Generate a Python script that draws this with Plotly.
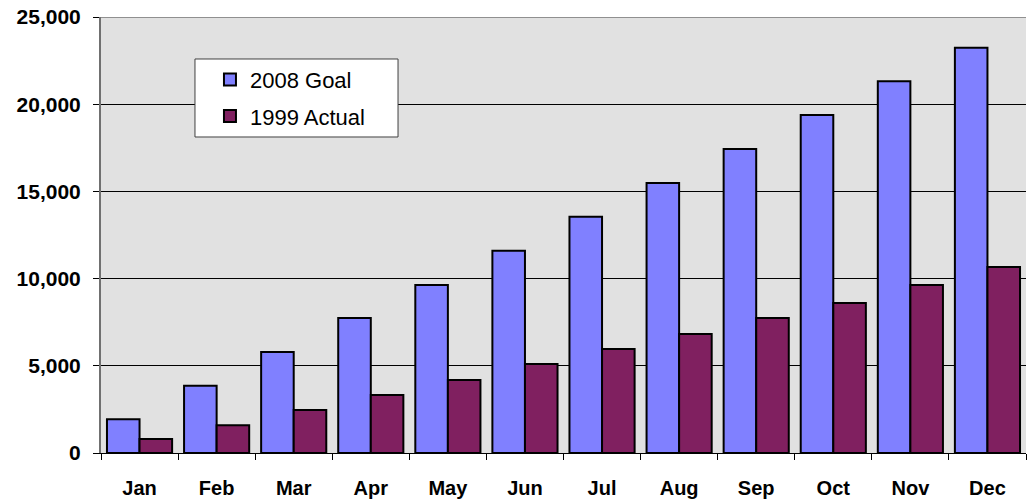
import plotly.graph_objects as go

months = ["Jan", "Feb", "Mar", "Apr", "May", "Jun", "Jul", "Aug", "Sep", "Oct", "Nov", "Dec"]
goal_2008 = [1930, 3860, 5790, 7740, 9640, 11590, 13540, 15480, 17430, 19380, 21320, 23240]
actual_1999 = [800, 1590, 2470, 3330, 4190, 5100, 5960, 6820, 7740, 8600, 9630, 10670]
y_ticks = [0, 5000, 10000, 15000, 20000, 25000]

fig = go.Figure()
fig.add_trace(go.Bar(x=months, y=goal_2008, name="2008 Goal", legendgroup="g",
                     marker=dict(color="#8080FF", line=dict(color="black", width=2))))
fig.add_trace(go.Bar(x=months, y=actual_1999, name="1999 Actual", legendgroup="a",
                     marker=dict(color="#802060", line=dict(color="black", width=2))))

fig.update_layout(
    width=1029, height=502,
    margin=dict(l=101, r=3, t=17, b=49),
    paper_bgcolor="white", plot_bgcolor="#E1E1E1",
    barmode="group", bargap=0.155, bargroupgap=0,
    font=dict(family="Liberation Sans, Arial", size=18, color="black"),
    showlegend=True,
    legend=dict(x=0.1178, y=0.9045, xanchor="left", yanchor="top",
                bgcolor="rgba(0,0,0,0)", borderwidth=0,
                font=dict(size=22), itemwidth=30, tracegroupgap=5,
                traceorder="grouped"),
    xaxis=dict(showline=True, linecolor="black", linewidth=1, automargin=False,
               ticks="outside", tickson="boundaries", ticklen=6, tickcolor="black",
               tickfont=dict(size=20, family="Liberation Sans, Arial"),
               showgrid=False, ticklabelstandoff=17),
    yaxis=dict(range=[0, 25000], tickvals=y_ticks, tickformat=",", automargin=False,
               showgrid=True, gridcolor="black", gridwidth=1,
               showline=True, linecolor="#707070", linewidth=2,
               ticks="outside", ticklen=6, tickcolor="black",
               tickfont=dict(size=21, family="Liberation Sans, Arial"),
               ticklabelstandoff=8, zeroline=False),
)
fig.update_xaxes(tickfont_weight="bold")
fig.update_yaxes(tickfont_weight="bold")
fig.add_shape(type="line", xref="paper", yref="y", x0=0, x1=1, y0=25000, y1=25000,
              line=dict(color="#909090", width=2))
# legend frame
fig.add_shape(type="rect", xref="paper", yref="paper", layer="above",
              x0=0.1016, x1=0.3211, y0=0.7248, y1=0.9037,
              fillcolor="white", line=dict(color="#404040", width=1))
fig.write_html("out.html", config={"displayModeBar": False},
               post_script="document.body.style.margin='0px';document.body.style.overflow='hidden';")
